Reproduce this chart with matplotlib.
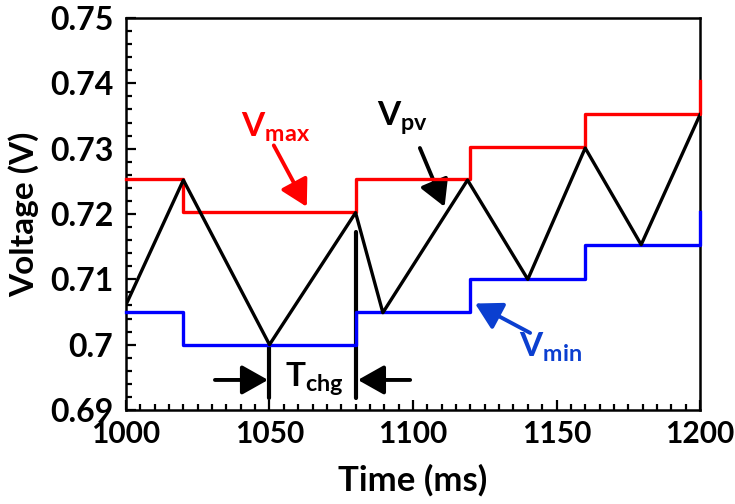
import matplotlib
matplotlib.use('Agg')
import matplotlib.pyplot as plt
from matplotlib.ticker import MultipleLocator, FuncFormatter

plt.rcParams['font.family'] = ['Lato', 'DejaVu Sans']
plt.rcParams['font.weight'] = 'bold'
plt.rcParams['mathtext.fontset'] = 'custom'
plt.rcParams['mathtext.rm'] = 'Lato:bold'
plt.rcParams['mathtext.it'] = 'Lato:bold'
plt.rcParams['mathtext.bf'] = 'Lato:bold'

# step edges (ms) for the thresholds
step_t = [1000, 1020, 1080, 1120, 1160, 1200]
# V_max / V_min levels per step, last value is the jump at 1200 ms
vmax = [0.7253, 0.7203, 0.7253, 0.7303, 0.7353, 0.7403]
vmin = [0.7050, 0.7000, 0.7050, 0.7100, 0.7153, 0.7203]

# V_pv triangle wave vertices
pv_t = [1000, 1020, 1050, 1080, 1089.5, 1119, 1140, 1160, 1179.5, 1200]
pv_v = [0.7061, 0.7252, 0.7000, 0.7202, 0.7049, 0.7252, 0.7100, 0.7301, 0.7153, 0.7352]

# T_chg marker positions
tchg_start = 1050
tchg_end = 1080

fig = plt.figure(figsize=(7.35, 5.04), dpi=100)
ax = fig.add_axes([0.1714, 0.1865, 0.781, 0.7778])

ax.plot(step_t, vmax, drawstyle='steps-post', color='#ff0000', lw=2.4, clip_on=False, zorder=4)
ax.plot(step_t, vmin, drawstyle='steps-post', color='#0000ff', lw=2.4, clip_on=False, zorder=4)
ax.plot(pv_t, pv_v, color='black', lw=2.4, zorder=5)

# T_chg dimension lines
ax.plot([tchg_start, tchg_start], [0.6918, 0.6996], color='black', lw=3, solid_capstyle='round')
ax.plot([tchg_end, tchg_end], [0.6918, 0.7173], color='black', lw=3, solid_capstyle='round')

arr = dict(arrowstyle='-|>,head_length=0.8,head_width=0.45', lw=2.8,
           mutation_scale=20, shrinkA=0, shrinkB=0)
ax.annotate('', xy=(tchg_start - 0.5, 0.6946), xytext=(1031, 0.6946),
            arrowprops=dict(arr, color='black'))
ax.annotate('', xy=(tchg_end + 0.8, 0.6946), xytext=(1099, 0.6946),
            arrowprops=dict(arr, color='black'))
ax.text(1065.5, 0.6947, r'$\mathregular{T_{chg}}$', ha='center', va='center', fontsize=24)

# labels with arrows
ax.text(1052, 0.7332, r'$\mathregular{V_{max}}$', color='#ff0000', ha='center', va='center', fontsize=24)
ax.annotate('', xy=(1063, 0.7211), xytext=(1051.5, 0.7305),
            arrowprops=dict(arr, color='#ff0000'))

ax.text(1096.5, 0.7347, r'$\mathregular{V_{pv}}$', color='black', ha='center', va='center', fontsize=24)
ax.annotate('', xy=(1111, 0.7211), xytext=(1102.4, 0.7301),
            arrowprops=dict(arr, color='black'))

ax.text(1148, 0.6995, r'$\mathregular{V_{min}}$', color='#0b3fd0', ha='center', va='center', fontsize=24)
ax.annotate('', xy=(1121.6, 0.7063), xytext=(1140.8, 0.7018),
            arrowprops=dict(arr, color='#0b3fd0'))

ax.set_xlim(1000, 1200)
ax.set_ylim(0.69, 0.75)
ax.xaxis.set_major_locator(MultipleLocator(50))
ax.xaxis.set_minor_locator(MultipleLocator(5))
ax.yaxis.set_major_locator(MultipleLocator(0.01))
ax.yaxis.set_minor_locator(MultipleLocator(0.002))
ax.yaxis.set_major_formatter(FuncFormatter(lambda v, p: '%g' % round(v, 3)))

ax.tick_params(which='both', direction='in', width=1.6, top=False, right=False)
ax.tick_params(which='major', length=7)
ax.tick_params(which='minor', length=4.5)
ax.tick_params(axis='y', pad=9, labelsize=23)
ax.tick_params(axis='x', pad=7, labelsize=21.5)
for s in ax.spines.values():
    s.set_linewidth(1.8)

ax.set_xlabel('Time (ms)', fontsize=25, fontweight='bold', labelpad=12)
ax.set_ylabel('Voltage (V)', fontsize=24, fontweight='bold', labelpad=8)

fig.savefig('out.png', dpi=100)
